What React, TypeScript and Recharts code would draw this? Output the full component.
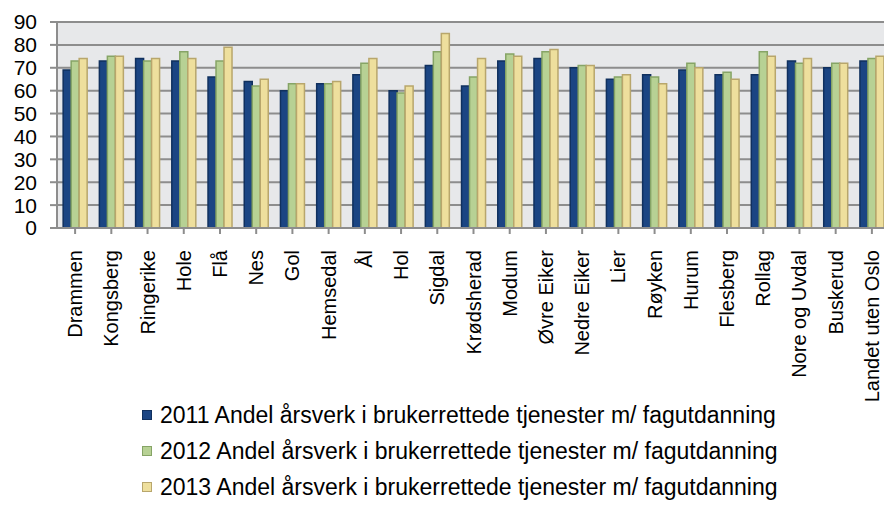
import React from 'react';
import { BarChart, Bar, XAxis, YAxis, CartesianGrid } from 'recharts';

const kommuner = [
  'Drammen', 'Kongsberg', 'Ringerike', 'Hole', 'Flå', 'Nes', 'Gol', 'Hemsedal', 'Ål', 'Hol',
  'Sigdal', 'Krødsherad', 'Modum', 'Øvre Eiker', 'Nedre Eiker', 'Lier', 'Røyken', 'Hurum',
  'Flesberg', 'Rollag', 'Nore og Uvdal', 'Buskerud', 'Landet uten Oslo',
];

const andel2011 = [69, 73, 74, 73, 66, 64, 60, 63, 67, 60, 71, 62, 73, 74, 70, 65, 67, 69, 67, 67, 73, 70, 73];
const andel2012 = [73, 75, 73, 77, 73, 62, 63, 63, 72, 59, 77, 66, 76, 77, 71, 66, 66, 72, 68, 77, 72, 72, 74];
const andel2013 = [74, 75, 74, 74, 79, 65, 63, 64, 74, 62, 85, 74, 75, 78, 71, 67, 63, 70, 65, 75, 74, 72, 75];

const yTicks = [0, 10, 20, 30, 40, 50, 60, 70, 80, 90];

const series = [
  { key: 'y2011', name: '2011 Andel årsverk i brukerrettede tjenester m/ fagutdanning', fill: '#1b4583', stroke: '#10305e' },
  { key: 'y2012', name: '2012 Andel årsverk i brukerrettede tjenester m/ fagutdanning', fill: '#b7d194', stroke: '#86a466' },
  { key: 'y2013', name: '2013 Andel årsverk i brukerrettede tjenester m/ fagutdanning', fill: '#eedf9d', stroke: '#b8a66c' },
];

const chartData = kommuner.map((name, i) => ({
  name,
  y2011: andel2011[i],
  y2012: andel2012[i],
  y2013: andel2013[i],
}));

const FONT = '"Liberation Sans", Arial, sans-serif';

const XTick = ({ x, y, payload }: { x?: number; y?: number; payload?: { value: string } }) => (
  <text
    x={0}
    y={0}
    transform={`translate(${x},${(y ?? 0) + 14}) rotate(-90)`}
    textAnchor="end"
    dominantBaseline="central"
    fontFamily={FONT}
    fontSize={20}
    fill="#000"
  >
    {payload?.value}
  </text>
);

export default function App() {
  return (
    <div
      style={{
        position: 'absolute',
        left: 0,
        top: 0,
        width: 884,
        height: 507,
        overflow: 'hidden',
        background: '#fff',
      }}
    >
      <BarChart
        width={890}
        height={420}
        data={chartData}
        margin={{ top: 22, right: 0, left: 0, bottom: 0 }}
        barCategoryGap="17%"
        barGap={0}
      >
        <CartesianGrid
          vertical={false}
          stroke="#8d8d8d"
          strokeWidth={2}
          fill="#e7e8ea"
          fillOpacity={1}
        />
        <XAxis
          dataKey="name"
          interval={0}
          height={192}
          tick={<XTick />}
          tickLine={{ stroke: '#8d8d8d', strokeWidth: 2 }}
          tickSize={6}
          axisLine={{ stroke: '#8d8d8d', strokeWidth: 2 }}
        />
        <YAxis
          domain={[0, 90]}
          ticks={yTicks}
          interval={0}
          width={57}
          tick={{ fontFamily: FONT, fontSize: 21, fill: '#000' }}
          tickLine={{ stroke: '#8d8d8d', strokeWidth: 2 }}
          tickSize={7}
          tickMargin={13}
          axisLine={{ stroke: '#8d8d8d', strokeWidth: 2 }}
        />
        {series.map((s) => (
          <Bar
            key={s.key}
            dataKey={s.key}
            name={s.name}
            fill={s.fill}
            stroke={s.stroke}
            strokeWidth={1.5}
            isAnimationActive={false}
          />
        ))}
      </BarChart>
      <div
        style={{
          position: 'absolute',
          left: 142,
          top: 397,
          fontFamily: FONT,
          fontSize: 23,
          color: '#000',
        }}
      >
        {series.map((s) => (
          <div key={`lg-${s.key}`} style={{ display: 'flex', alignItems: 'center', height: 36, whiteSpace: 'nowrap' }}>
            <div
              style={{
                width: 8,
                height: 8,
                background: s.fill,
                border: `1px solid ${s.stroke}`,
                marginRight: 8,
              }}
            />
            <span>{s.name}</span>
          </div>
        ))}
      </div>
    </div>
  );
}
